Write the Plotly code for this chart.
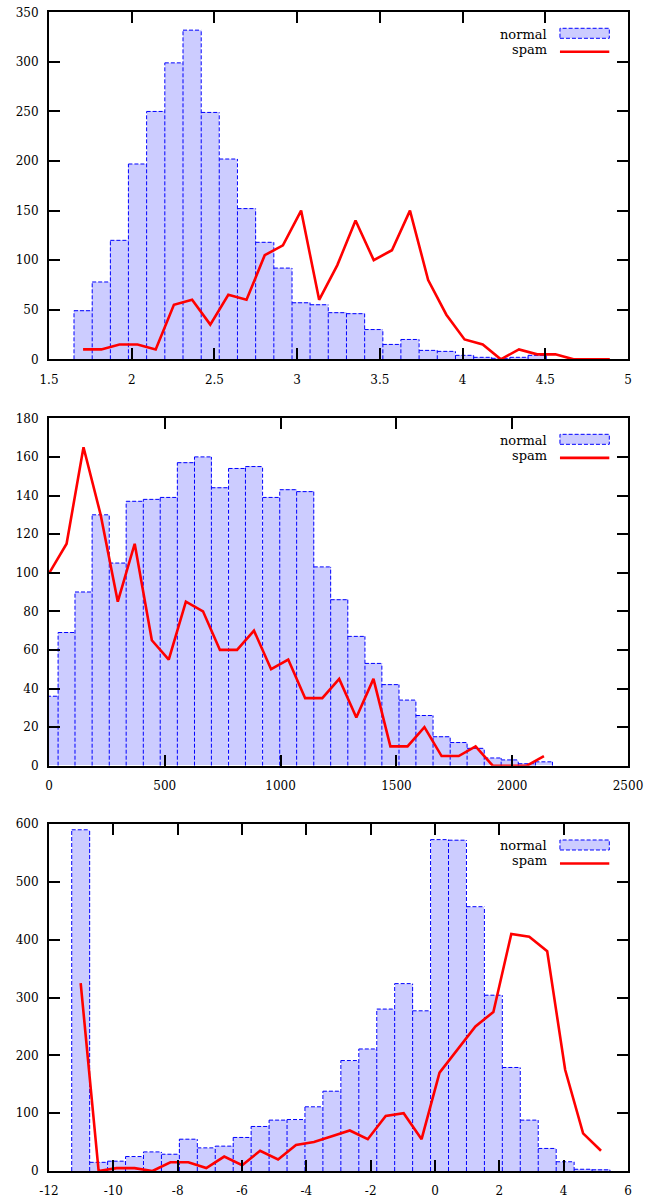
import plotly.graph_objects as go

# ---------------- data ----------------
# Panel 1
bins1 = [1.706, 1.816, 1.926, 2.035, 2.145, 2.255, 2.365, 2.475, 2.584, 2.694,
         2.804, 2.914, 3.024, 3.133, 3.243, 3.353, 3.463, 3.573, 3.682, 3.792,
         3.902, 4.012, 4.122, 4.231, 4.341, 4.451, 4.561, 4.671, 4.780, 4.890]
normal1 = [49, 78, 120, 197, 250, 299, 332, 249, 202, 152, 118, 92, 57, 55, 47,
           46, 30, 15, 20, 9, 8, 4, 2, 1, 2, 4]
spam1 = [10, 10, 15, 15, 10, 55, 60, 35, 65, 60, 105, 115, 150, 60, 95, 140, 100,
         110, 150, 80, 45, 20, 15, 0, 10, 5, 5, 0, 0, 0]

# Panel 2
bins2 = [2, 76, 149, 223, 297, 370, 444, 517, 591, 665, 738, 812, 885, 959, 1033,
         1106, 1180, 1253, 1327, 1401, 1474, 1548, 1621, 1695, 1769, 1842, 1916,
         1989, 2063, 2137]
normal2 = [36, 69, 90, 130, 105, 137, 138, 139, 157, 160, 144, 154, 155, 139, 143,
           142, 103, 86, 67, 53, 42, 34, 26, 15, 12, 9, 4, 3, 1, 2]
spam2 = [100, 115, 165, 130, 85, 115, 65, 55, 85, 80, 60, 60, 70, 50, 55, 35, 35,
         45, 25, 45, 10, 10, 20, 5, 5, 10, 0, 0, 0, 5]

# Panel 3
bins3 = [-11.015, -10.457, -9.899, -9.341, -8.784, -8.226, -7.668, -7.110, -6.553,
         -5.995, -5.437, -4.879, -4.321, -3.764, -3.206, -2.648, -2.090, -1.532,
         -0.975, -0.417, 0.141, 0.699, 1.257, 1.815, 2.372, 2.930, 3.488, 4.046,
         4.604, 5.161]
normal3 = [590, 15, 17, 25, 33, 29, 55, 40, 43, 58, 77, 88, 89, 111, 138, 191, 211,
           280, 324, 277, 573, 572, 457, 304, 179, 88, 39, 16, 3, 2]
spam3 = [325, 0, 5, 5, 0, 15, 15, 5, 25, 10, 35, 20, 45, 50, 60, 70, 55, 95, 100,
         55, 170, 210, 250, 275, 410, 405, 380, 175, 65, 35]

# axis ticks
xticks1 = [1.5, 2, 2.5, 3, 3.5, 4, 4.5, 5]
xlabels1 = ["1.5", "2", "2.5", "3", "3.5", "4", "4.5", "5"]
yticks1 = [0, 50, 100, 150, 200, 250, 300, 350]
xticks2 = [0, 500, 1000, 1500, 2000, 2500]
xlabels2 = ["0", "500", "1000", "1500", "2000", "2500"]
yticks2 = [0, 20, 40, 60, 80, 100, 120, 140, 160, 180]
xticks3 = [-12, -10, -8, -6, -4, -2, 0, 2, 4, 6]
xlabels3 = ["-12", "-10", "-8", "-6", "-4", "-2", "0", "2", "4", "6"]
yticks3 = [0, 100, 200, 300, 400, 500, 600]

series_names = ["normal", "spam"]

# ---------------- style ----------------
FONT = "DejaVu Serif"
FILL = "#ccccff"
BLUE = "#0000ff"
RED = "#ff0000"
DASH = "4px,2px"

panels = [
    dict(bins=bins1, normal=normal1, spam=spam1, width=0.1098,
         xr=[1.5, 5], xt=xticks1, xl=xlabels1, yr=[0, 350], yt=yticks1,
         top=12.3, bottom=359.3),
    dict(bins=bins2, normal=normal2, spam=spam2, width=73.6,
         xr=[0, 2500], xt=xticks2, xl=xlabels2, yr=[0, 180], yt=yticks2,
         top=418.3, bottom=765.7),
    dict(bins=bins3, normal=normal3, spam=spam3, width=0.5578,
         xr=[-12, 6], xt=xticks3, xl=xlabels3, yr=[0, 600], yt=yticks3,
         top=824.0, bottom=1171.0),
]

H = 1198
W = 662
fig = go.Figure()
layout = dict(
    width=W, height=H,
    margin=dict(l=49, r=W - 627.7, t=0, b=0),
    paper_bgcolor="white", plot_bgcolor="white",
    showlegend=False,
    font=dict(family=FONT, size=12, color="black"),
    annotations=[], shapes=[],
)

for k, p in enumerate(panels):
    idx = "" if k == 0 else str(k + 1)
    xa = "x" + idx
    ya = "y" + idx
    n = len(p["normal"])
    centers = p["bins"][:n]
    hs = p["normal"]
    w = p["width"]
    fig.add_trace(go.Bar(
        x=centers, y=hs, width=w, xaxis=xa, yaxis=ya,
        marker=dict(color=FILL, line=dict(width=0)), name=series_names[0],
    ))
    # dashed outlines: one vertical per bin edge (drawn upward from 0),
    # plus the top of each bar
    ox, oy = [], []
    for j in range(n + 1):
        xe = (centers[j] - w / 2) if j < n else (centers[n - 1] + w / 2)
        hl = hs[j - 1] if j > 0 else 0
        hr = hs[j] if j < n else 0
        ox += [xe, xe, None]
        oy += [0, max(hl, hr), None]
    for c, h in zip(centers, hs):
        ox += [c - w / 2, c + w / 2, None]
        oy += [h, h, None]
    fig.add_trace(go.Scatter(
        x=ox, y=oy, mode="lines", xaxis=xa, yaxis=ya, hoverinfo="skip",
        line=dict(color=BLUE, width=1, dash=DASH), name=series_names[0],
    ))
    fig.add_trace(go.Scatter(
        x=p["bins"][:len(p["spam"])], y=p["spam"], mode="lines",
        xaxis=xa, yaxis=ya, line=dict(color=RED, width=2.6),
        name=series_names[1],
    ))

    dom = [1 - p["bottom"] / H, 1 - p["top"] / H]
    axis_common = dict(
        showline=True, linecolor="black", linewidth=2, mirror="ticks",
        ticks="inside", ticklen=11, tickwidth=1.5, tickcolor="black",
        showgrid=False, zeroline=False, automargin=False,
        ticklabeloverflow="allow",
        tickfont=dict(family=FONT, size=12, color="black"),
    )
    layout["xaxis" + idx] = dict(
        axis_common, range=p["xr"], tickmode="array", tickvals=p["xt"],
        ticktext=p["xl"], anchor=ya, domain=[0, 1], ticklabelstandoff=8,
    )
    layout["yaxis" + idx] = dict(
        axis_common, range=p["yr"], tickmode="array", tickvals=p["yt"],
        anchor=xa, domain=dom, ticklabelstandoff=6,
    )

    xd = xa + " domain"
    yd = ya + " domain"
    # legend
    layout["annotations"] += [
        dict(text=series_names[0], xref=xd, yref=yd, x=0.864, y=0.9366,
             xanchor="right", yanchor="middle", showarrow=False,
             font=dict(family=FONT, size=13, color="black")),
        dict(text=series_names[1], xref=xd, yref=yd, x=0.864, y=0.8934,
             xanchor="right", yanchor="middle", showarrow=False,
             font=dict(family=FONT, size=13, color="black")),
    ]
    layout["shapes"] += [
        dict(type="rect", xref=xd, yref=yd, x0=0.8825, x1=0.9677,
             y0=0.9251, y1=0.9539, fillcolor=FILL,
             line=dict(color=BLUE, width=1, dash=DASH)),
        dict(type="line", xref=xd, yref=yd, x0=0.8825, x1=0.9677,
             y0=0.8862, y1=0.8862, line=dict(color=RED, width=2.6)),
    ]

fig.update_layout(**layout)
fig.update_layout(bargap=0)
fig.write_html(
    "out.html",
    config={"displayModeBar": False},
    post_script="document.body.style.margin='0';document.body.style.overflow='hidden';",
)
